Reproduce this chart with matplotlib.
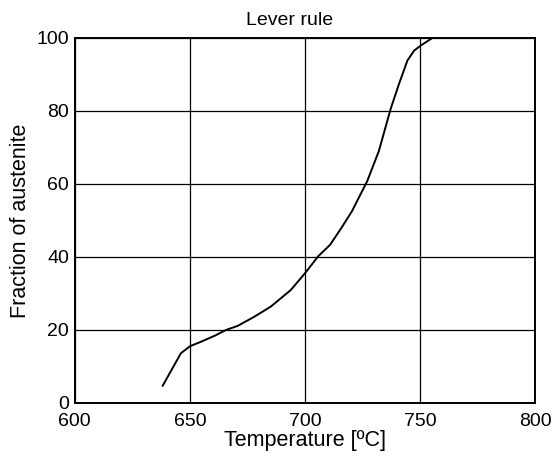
import matplotlib
matplotlib.use("Agg")
import matplotlib.pyplot as plt

# austenite fraction vs temperature
temperature = [638.2, 642.1, 646.1, 650.0, 655.0, 660.8, 665.8, 670.8, 678.0,
               685.2, 693.8, 700.0, 705.8, 710.9, 716.0, 720.4, 727.0, 732.1,
               737.2, 740.8, 744.5, 747.4, 750.3, 753.2, 755.4]
fraction = [4.7, 9.1, 13.6, 15.5, 16.8, 18.4, 20.0, 21.1, 23.6,
            26.4, 30.9, 35.5, 40.2, 43.3, 48.1, 52.5, 60.7, 69.0,
            80.5, 87.3, 93.8, 96.5, 97.9, 99.1, 100.0]

xticks = [600, 650, 700, 750, 800]
yticks = [0, 20, 40, 60, 80, 100]

plt.rcParams['font.family'] = ['Liberation Sans', 'DejaVu Sans']

fig = plt.figure(figsize=(5.54, 4.62), dpi=100)
ax = fig.add_axes([0.135, 0.128, 0.831, 0.790])

ax.plot(temperature, fraction, color='black', linewidth=1.4)

ax.set_xlim(600, 800)
ax.set_ylim(0, 100)
ax.set_xticks(xticks)
ax.set_yticks(yticks)
ax.grid(True, color='black', linewidth=0.9)
ax.set_axisbelow(True)
ax.tick_params(length=0, labelsize=14, colors='black')
ax.tick_params(axis='x', pad=7)
ax.tick_params(axis='y', pad=4)
for s in ax.spines.values():
    s.set_linewidth(1.4)
    s.set_color('black')

ax.set_title('Lever rule', fontsize=14, pad=9, x=0.467)
ax.set_xlabel('Temperature [ºC]', fontsize=15.5, labelpad=0)
ax.set_ylabel('Fraction of austenite', fontsize=15.5, labelpad=4)

fig.savefig('out.png', dpi=100)
